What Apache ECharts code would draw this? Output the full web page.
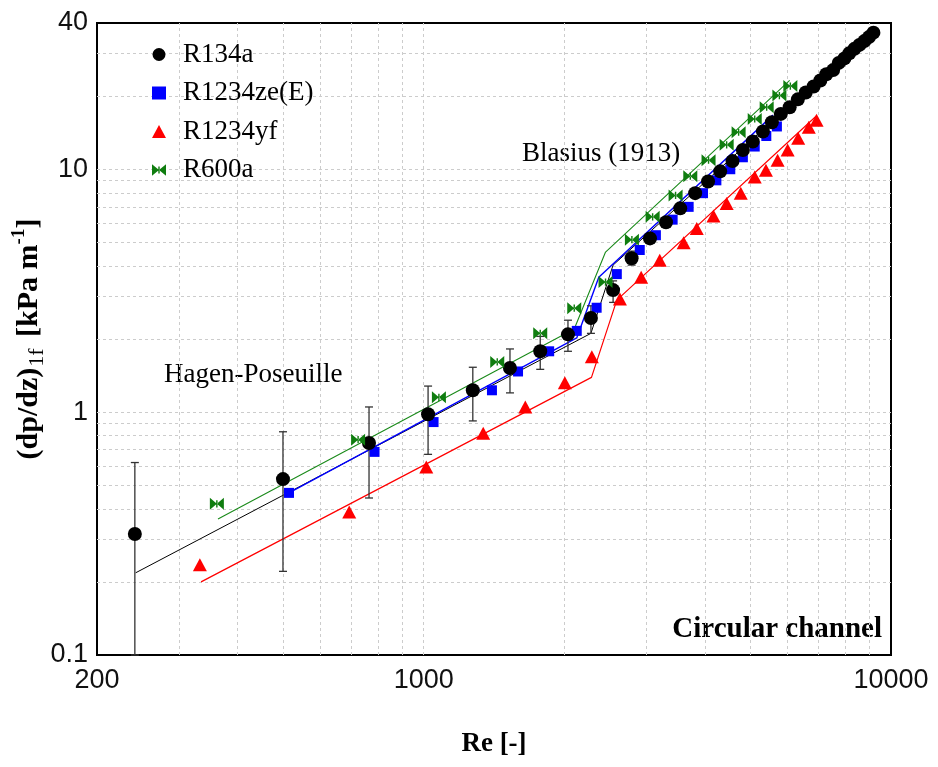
<!DOCTYPE html>
<html><head><meta charset="utf-8">
<script src="https://cdn.jsdelivr.net/npm/echarts@6/dist/echarts.min.js"></script>
<style>html,body{margin:0;padding:0;background:#fff}#c{width:938px;height:767px}</style>
</head><body><div id="c"></div>
<script>
// ---- data ----
const re134a = [241, 500, 764, 1022, 1274, 1530, 1776, 2036, 2280, 2543, 2786, 3050, 3300, 3540, 3810, 4060, 4310, 4580, 4820, 5060, 5320, 5560, 5810, 6070, 6320, 6570, 6830, 7060, 7270, 7520, 7730, 7950, 8140, 8350, 8560, 8770, 8970, 9170];
const dp134a = [0.315, 0.53, 0.746, 0.98, 1.23, 1.52, 1.78, 2.09, 2.44, 3.18, 4.30, 5.19, 6.05, 6.9, 7.97, 8.9, 9.8, 10.8, 12.0, 13.0, 14.3, 15.6, 16.9, 18.0, 19.4, 20.7, 21.9, 23.2, 24.6, 25.6, 27.4, 28.6, 30.0, 31.3, 32.5, 33.7, 35.0, 36.5];
const errRe = [241, 500, 764, 1022, 1274, 1530, 1776, 2036, 2280, 2543, 2786];
const errLow = [0.1, 0.221, 0.443, 0.67, 0.92, 1.2, 1.5, 1.78, 2.11, 2.83, 4.03];
const errHigh = [0.62, 0.83, 1.05, 1.28, 1.53, 1.82, 2.05, 2.39, 2.74, 3.47, 4.6];

const reZe = [515, 785, 1050, 1400, 1592, 1856, 2126, 2345, 2590, 2900, 3140, 3410, 3690, 3960, 4230, 4530, 4820, 5110, 5410, 5700];
const dpZe = [0.465, 0.686, 0.91, 1.23, 1.47, 1.78, 2.16, 2.69, 3.70, 4.65, 5.35, 6.2, 7.0, 7.97, 9.0, 10.0, 11.2, 12.4, 13.7, 15.0];

const reYf = [332, 693, 1013, 1341, 1650, 2005, 2290, 2630, 2920, 3200, 3600, 3840, 4170, 4450, 4770, 5110, 5400, 5720, 6010, 6330, 6670, 6930];
const dpYf = [0.235, 0.388, 0.595, 0.818, 1.05, 1.32, 1.69, 2.92, 3.59, 4.22, 4.98, 5.7, 6.42, 7.23, 7.97, 9.3, 9.9, 10.9, 12.0, 13.4, 14.9, 15.9];

const re600 = [361, 724, 1078, 1437, 1776, 2100, 2450, 2790, 3090, 3460, 3720, 4070, 4450, 4720, 5110, 5420, 5770, 6090];
const dp600 = [0.419, 0.77, 1.15, 1.61, 2.11, 2.68, 3.43, 5.13, 6.37, 7.8, 9.36, 10.9, 12.6, 14.2, 16.1, 18.0, 20.1, 22.0];

// correlation lines (Hagen-Poiseuille laminar, Blasius turbulent)
const lineRe134a = [242, 2280, 2543, 9170];
const lineDp134a = [0.218, 2.11, 4.03, 37.5];
const lineReZe = [515, 2126, 2370, 5590];
const lineDpZe = [0.465, 2.02, 3.59, 16.7];
const lineReYf = [334, 2286, 2590, 6930];
const lineDpYf = [0.2, 1.39, 2.89, 16.6];
const lineRe600 = [363, 2100, 2450, 6070];
const lineDp600 = [0.363, 2.2, 4.56, 23.2];

const xTicks = [200, 1000, 10000];
const yTicks = [0.1, 1, 10, 40];
const xGrid = [300, 400, 500, 600, 700, 800, 900, 1000, 2000, 3000, 4000, 5000, 6000, 7000, 8000, 9000];
const yGrid = [0.2, 0.3, 0.4, 0.5, 0.6, 0.7, 0.8, 0.9, 1, 2, 3, 4, 5, 6, 7, 8, 9, 10, 20, 30];

const seriesNames = ['R134a', 'R1234ze(E)', 'R1234yf', 'R600a'];

// ---- helpers ----
const zip = (a, b) => a.map((v, i) => [v, b[i]]);
const serif = 'Liberation Serif';
const sans = 'Liberation Sans';
const bowtie = 'path://M0,0L6,5L0,10ZM12,0L6,5L12,10ZM5.4,2L6.6,2L6.6,8L5.4,8Z';

const chart = echarts.init(document.getElementById('c'), null, {renderer: 'canvas'});

function lineSeries(name, xs, ys, color, w) {
  return {
    name: name, type: 'line', data: zip(xs, ys), symbol: 'none', z: 2,
    lineStyle: {color: color, width: w}, silent: true, animation: false
  };
}

const option = {
  animation: false,
  grid: {left: 97, right: 47, top: 23, bottom: 112, show: true, borderColor: '#000', borderWidth: 2, backgroundColor: 'transparent', containLabel: false, outerBoundsMode: 'none'},
  legend: {
    data: seriesNames,
    orient: 'vertical', left: 147, top: 36, itemWidth: 14, itemHeight: 13, itemGap: 11.5,
    textStyle: {fontFamily: serif, fontSize: 27, color: '#000', padding: [0, 0, 0, 12]},
    selectedMode: false
  },
  xAxis: {
    type: 'log', logBase: 10, min: 200, max: 10000,
    axisLine: {show: false}, axisTick: {show: false}, splitLine: {show: false}, minorSplitLine: {show: false},
    axisLabel: {customValues: xTicks, formatter: v => String(Math.round(v)), showMinLabel: true, showMaxLabel: true, margin: 12, fontFamily: sans, fontSize: 27, color: '#111'},
    name: 'Re [-]', nameLocation: 'middle', nameGap: 76, nameMoveOverlap: false,
    nameTextStyle: {fontFamily: serif, fontWeight: 'bold', fontSize: 27, color: '#000'}
  },
  yAxis: {
    type: 'log', logBase: 10, min: 0.1, max: 40,
    axisLine: {show: false}, axisTick: {show: false}, splitLine: {show: false}, minorSplitLine: {show: false},
    axisLabel: {customValues: yTicks, formatter: v => String(+v.toPrecision(3)), showMinLabel: true, showMaxLabel: true, margin: 9, fontFamily: sans, fontSize: 27, color: '#111'},
    name: '{b|(dp/dz)}{s|1f}{b| [kPa m}{p|-1}{b|]}', nameLocation: 'middle', nameGap: 49, nameRotate: 90, nameMoveOverlap: false,
    nameTextStyle: {
      rich: {
        b: {fontFamily: serif, fontWeight: 'bold', fontSize: 30, color: '#000', lineHeight: 38},
        s: {fontFamily: serif, fontSize: 22, color: '#000', lineHeight: 20, verticalAlign: 'bottom', padding: [0, 4, 0, 1]},
        p: {fontFamily: serif, fontWeight: 'bold', fontSize: 19, color: '#000', lineHeight: 20, verticalAlign: 'top'}
      }
    }
  },
  graphic: [
    {type: 'text', left: 164, top: 361, silent: true, style: {text: 'Hagen-Poseuille', font: '27px "Liberation Serif"', fill: '#000'}},
    {type: 'text', left: 522, top: 140, silent: true, style: {text: 'Blasius (1913)', font: '27px "Liberation Serif"', fill: '#000'}},
    {type: 'text', right: 56, top: 615, silent: true, style: {text: 'Circular channel', font: 'bold 29px "Liberation Serif"', fill: '#000'}}
  ],
  series: [
    {
      name: 'grid', type: 'line', data: [], z: 1, silent: true,
      markLine: {
        silent: true, symbol: 'none', animation: false, z: 1,
        label: {show: false},
        lineStyle: {color: '#cccccc', type: [3, 3], width: 1},
        emphasis: {disabled: true},
        data: xGrid.map(v => ({xAxis: v})).concat(yGrid.map(v => ({yAxis: v})))
      }
    },
    lineSeries('l134a', lineRe134a, lineDp134a, '#000000', 1),
    lineSeries('lze', lineReZe, lineDpZe, '#0000ff', 1.4),
    lineSeries('lyf', lineReYf, lineDpYf, '#ff0000', 1.2),
    lineSeries('l600', lineRe600, lineDp600, '#1a8a1a', 1.1),
    {
      name: 'err', type: 'custom', z: 3, silent: true,
      data: errRe.map((v, i) => [v, errLow[i], errHigh[i]]),
      encode: {x: 0, y: [1, 2]},
      renderItem: function (params, api) {
        const x = api.value(0);
        const lo = api.coord([x, api.value(1)]);
        const hi = api.coord([x, api.value(2)]);
        const c = 4;
        const st = {stroke: '#333', lineWidth: 1.3};
        return {
          type: 'group',
          children: [
            {type: 'line', shape: {x1: lo[0], y1: lo[1], x2: hi[0], y2: hi[1]}, style: st},
            {type: 'line', shape: {x1: hi[0] - c, y1: hi[1], x2: hi[0] + c, y2: hi[1]}, style: st},
            {type: 'line', shape: {x1: lo[0] - c, y1: lo[1], x2: lo[0] + c, y2: lo[1]}, style: st}
          ]
        };
      }
    },
    {name: 'R1234ze(E)', type: 'scatter', data: zip(reZe, dpZe), symbol: 'rect', symbolSize: 10, z: 4, itemStyle: {color: '#0000ff', opacity: 1}},
    {name: 'R134a', type: 'scatter', data: zip(re134a, dp134a), symbol: 'circle', symbolSize: 14, z: 5, itemStyle: {color: '#000000', opacity: 1}},
    {name: 'R1234yf', type: 'scatter', data: zip(reYf, dpYf), symbol: 'triangle', symbolSize: [14, 13], z: 5, itemStyle: {color: '#ff0000', opacity: 1}},
    {name: 'R600a', type: 'scatter', data: zip(re600, dp600), symbol: bowtie, symbolSize: [14, 12], z: 6, itemStyle: {color: '#0f7d0f', opacity: 1}}
  ]
};
chart.setOption(option);
</script></body></html>
